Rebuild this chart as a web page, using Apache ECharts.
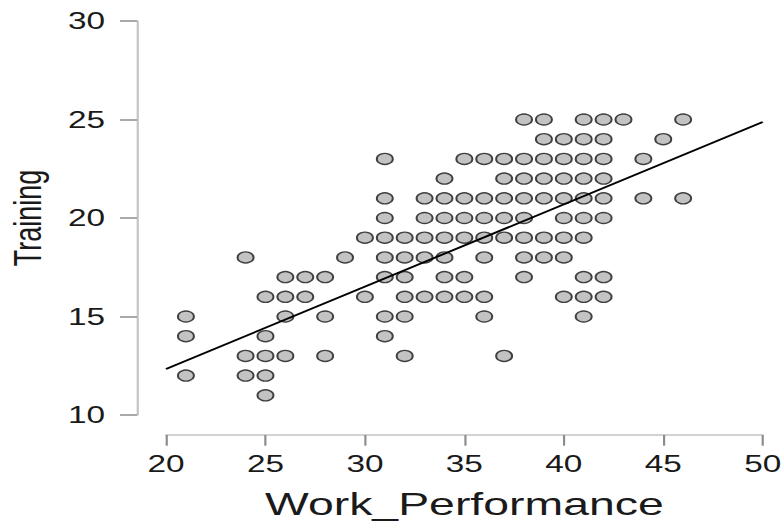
<!DOCTYPE html>
<html>
<head>
<meta charset="utf-8">
<script src="https://cdn.jsdelivr.net/npm/echarts@6/dist/echarts.min.js"></script>
<style>
html,body{margin:0;padding:0;background:#fff;overflow:hidden;}
#c{width:540px;height:523px;transform:scaleX(1.45);transform-origin:0 0;}
</style>
</head>
<body>
<div id="c"></div>
<script>
// Work_Performance (x) values, grouped by Training (y) row
const row25 = [38,39,41,42,43,46];
const row24 = [39,40,41,42,45];
const row23 = [31,35,36,37,38,39,40,41,42,44];
const row22 = [34,37,38,39,40,41,42];
const row21 = [31,33,34,35,36,37,38,39,40,41,42,44,46];
const row20 = [31,33,34,35,36,37,38,40,41,42];
const row19 = [30,31,32,33,34,35,36,37,38,39,40,41];
const row18 = [24,29,31,32,33,34,36,38,39,40];
const row17 = [26,27,28,31,32,34,35,38,41,42];
const row16 = [25,26,27,30,32,33,34,35,36,40,41,42];
const row15 = [21,26,28,31,32,36,41];
const row14 = [21,25,31];
const row13 = [24,25,26,28,32,37];
const row12 = [21,24,25];
const row11 = [25];
const trainingLevels = [25,24,23,22,21,20,19,18,17,16,15,14,13,12,11];
const rows = [row25,row24,row23,row22,row21,row20,row19,row18,row17,row16,row15,row14,row13,row12,row11];

// regression line endpoints
const fitX = [20, 50];
const fitY = [12.34, 24.87];

const xTicks = [20,25,30,35,40,45,50];
const yTicks = [10,15,20,25,30];

const points = [];
rows.forEach((r, i) => r.forEach(x => points.push([x, trainingLevels[i]])));
const fitLine = fitX.map((x, i) => [x, fitY[i]]);

const chart = echarts.init(document.getElementById('c'), null, {renderer: 'svg'});
const font = 'Liberation Sans, Arial, sans-serif';
chart.setOption({
  animation: false,
  backgroundColor: '#fff',
  grid: {left: 114.5, right: 14, top: 21, bottom: 108, containLabel: false, outerBoundsMode: 'none'},
  xAxis: {
    type: 'value', min: xTicks[0], max: xTicks[xTicks.length-1], interval: 5,
    offset: 20,
    splitLine: {show: false},
    axisLine: {show: true, lineStyle: {color: '#c4c4c4', width: 1.5}},
    axisTick: {show: true, length: 10.7, lineStyle: {color: '#8c8c8c', width: 1.5}},
    axisLabel: {fontSize: 23, color: '#1a1a1a', margin: 17, fontFamily: font},
    name: 'Work_Performance', nameLocation: 'middle', nameGap: 53,
    nameTextStyle: {fontSize: 32, color: '#1a1a1a', fontFamily: font}
  },
  yAxis: {
    type: 'value', min: yTicks[0], max: yTicks[yTicks.length-1], interval: 5,
    offset: 20,
    splitLine: {show: false},
    axisLine: {show: true, lineStyle: {color: '#c4c4c4', width: 1.5}},
    axisTick: {show: true, length: 11.7, lineStyle: {color: '#8c8c8c', width: 1.5}},
    axisLabel: {fontSize: 23, color: '#1a1a1a', margin: 22, fontFamily: font},
    name: 'Training', nameLocation: 'middle', nameRotate: 90, nameGap: 62,
    nameTextStyle: {fontSize: 27, color: '#1a1a1a', fontFamily: font}
  },
  series: [
    {
      type: 'scatter', data: points, symbol: 'circle', symbolSize: 11,
      itemStyle: {color: '#c3c3c3', borderColor: '#404040', borderWidth: 1.4, opacity: 1},
      z: 2
    },
    {
      type: 'line', data: fitLine, symbol: 'none',
      lineStyle: {color: '#000', width: 1.8},
      z: 3
    }
  ]
});
</script>
</body>
</html>
